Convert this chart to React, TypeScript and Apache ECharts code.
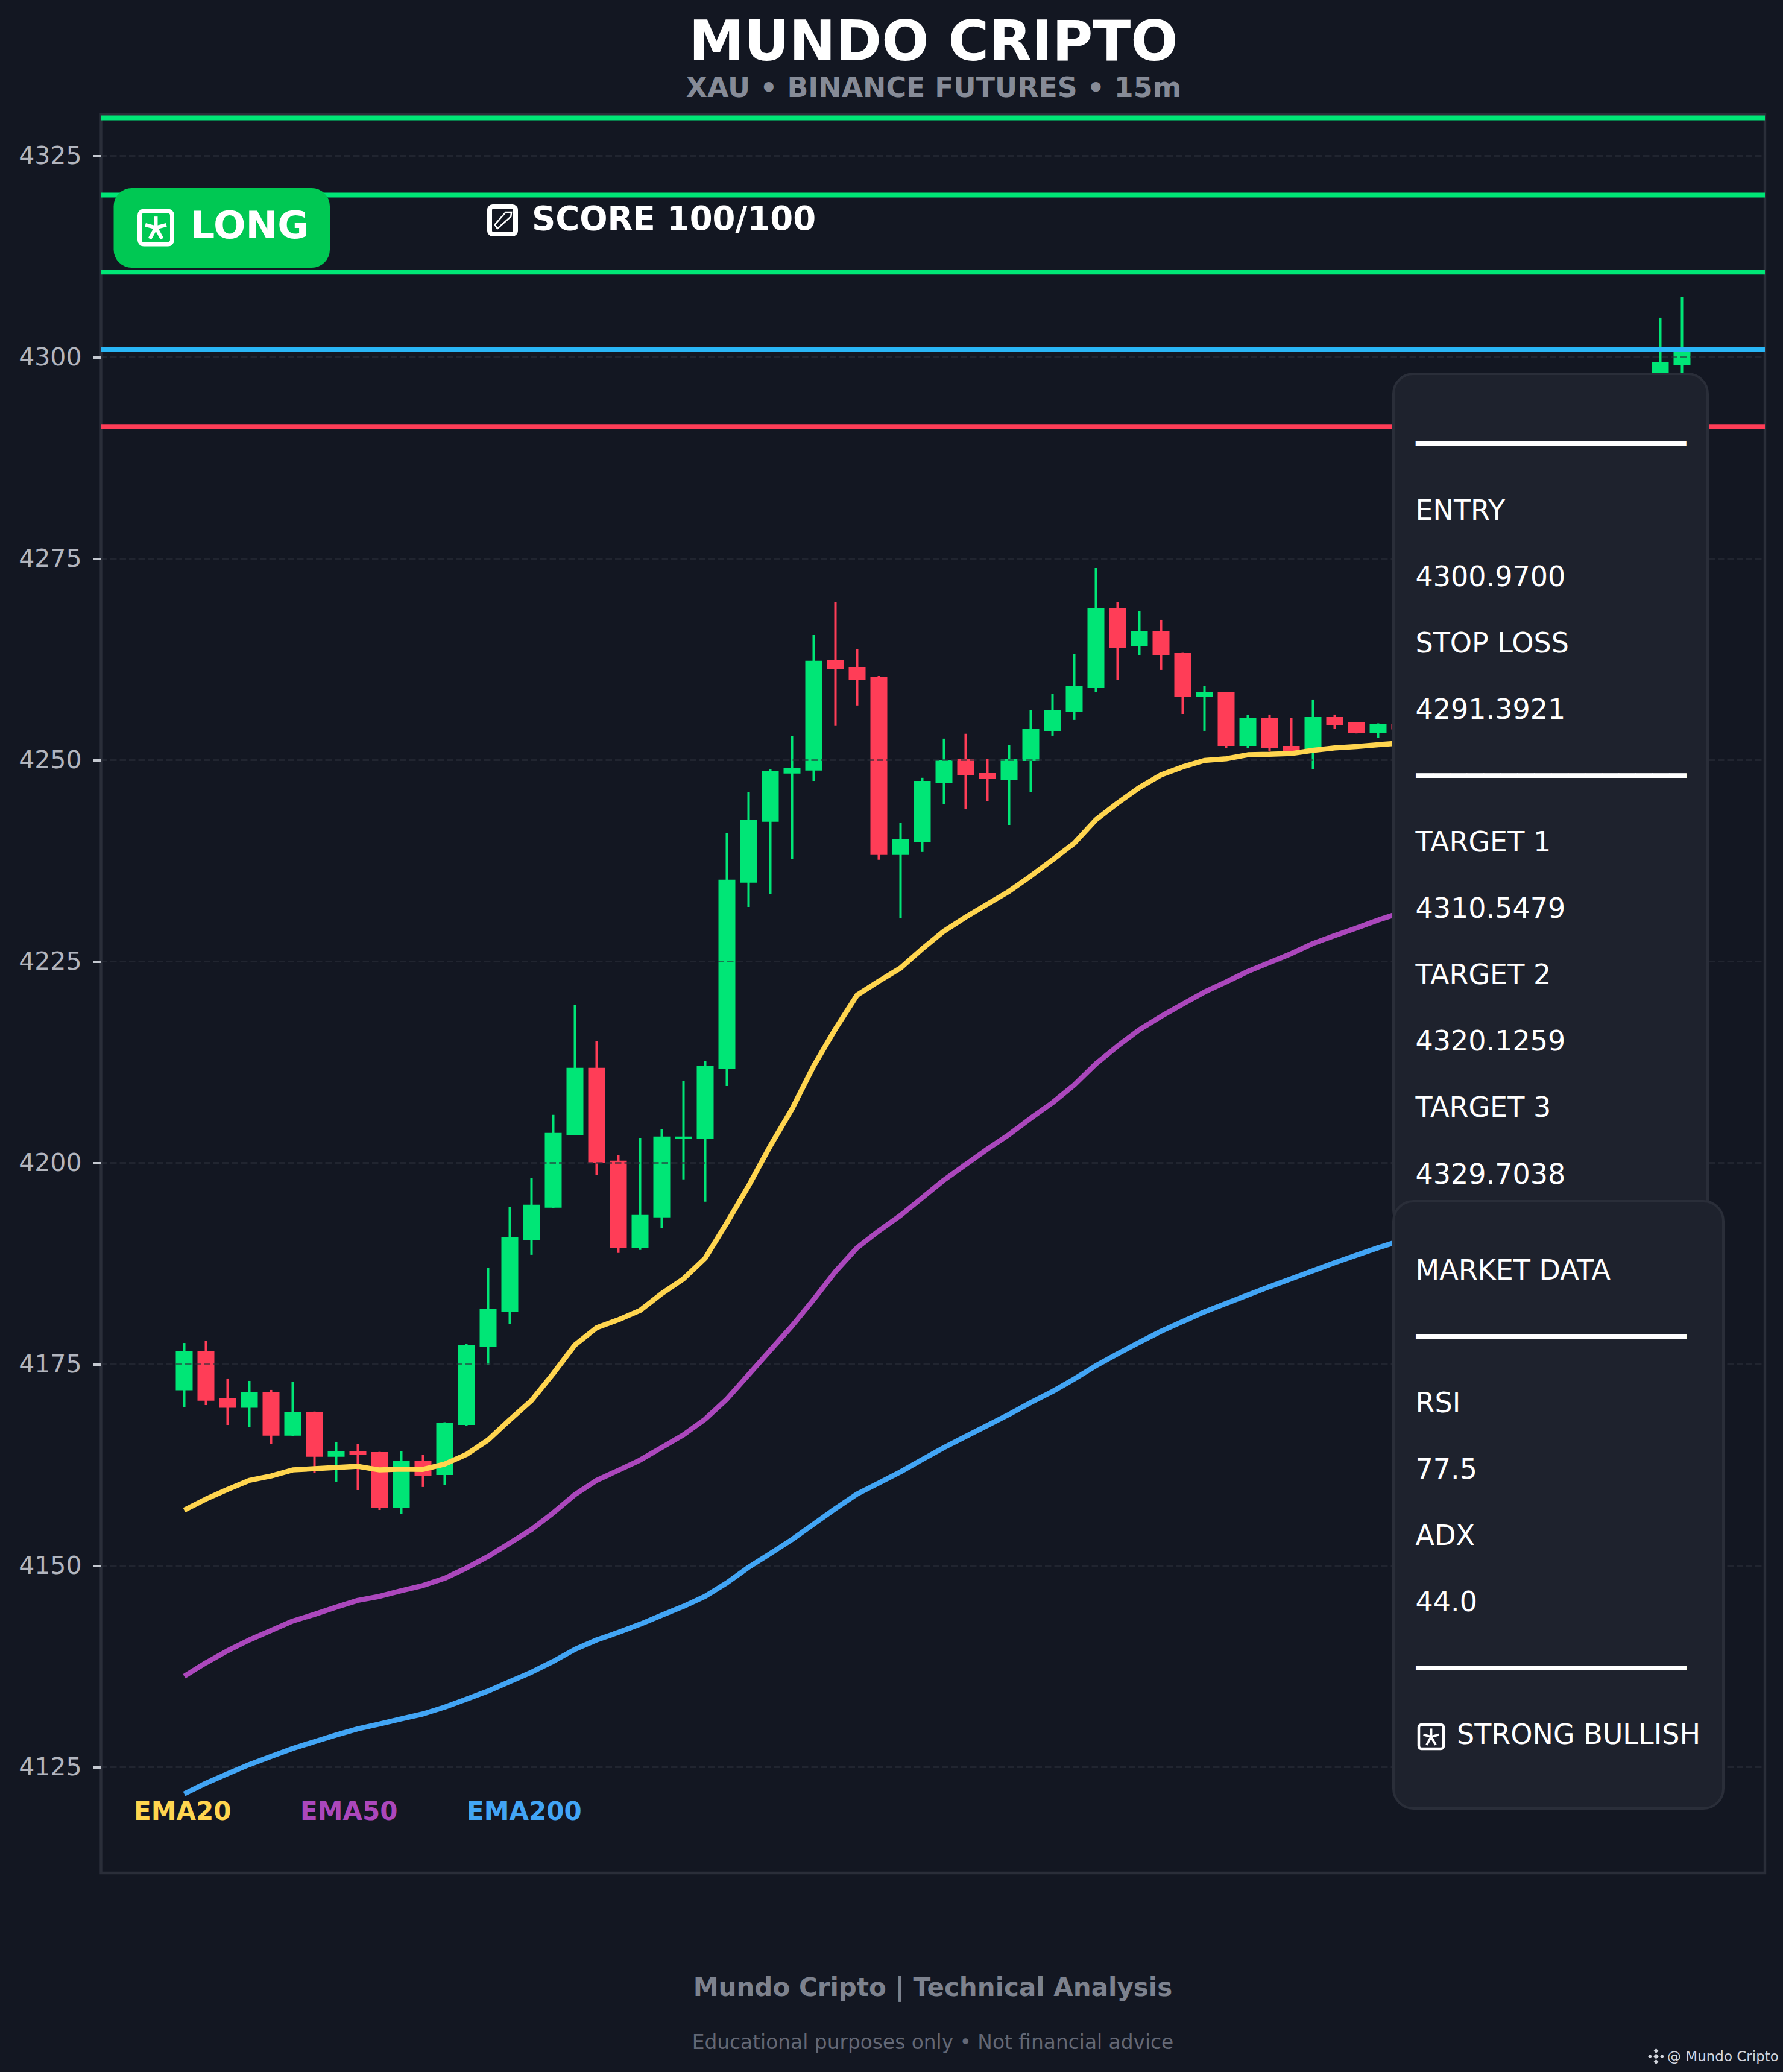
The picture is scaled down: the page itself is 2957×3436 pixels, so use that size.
import React, { useEffect, useRef } from "react";
import * as echarts from "echarts";

const BG = "#131722";
const PANEL = "#1e222d";
const EDGE = "#2a2e39";
const UP = "#00e676";
const DOWN = "#ff3d57";
const FONT = "DejaVu Sans";

const opens = [4171.76,4176.6,4170.76,4169.59,4171.58,4166.14,4169.11,4163.52,4164.17,4164.1,4157.21,4162.97,4161.25,4167.46,4177.12,4181.54,4190.44,4194.43,4203.47,4211.79,4200.26,4189.47,4193.23,4202.97,4202.97,4211.63,4234.77,4242.33,4248.32,4248.69,4262.44,4261.55,4260.29,4238.21,4239.84,4247.11,4250.18,4248.37,4247.48,4249.88,4253.54,4255.94,4258.93,4268.89,4264.1,4266.04,4263.27,4257.81,4258.41,4251.75,4255.26,4251.75,4251.05,4255.34,4254.67,4253.32,4254.5,4253.8,4255.3,4256.9,4256.1,4259.2,4263.4,4266.8,4265.7,4271.5,4277.6,4286.0,4297.2,4299.05];
const closes = [4176.6,4170.48,4169.59,4171.58,4166.14,4169.11,4163.52,4164.17,4163.72,4157.21,4163.05,4161.18,4167.76,4177.42,4181.84,4190.76,4194.8,4203.7,4211.79,4200.0,4189.47,4193.52,4203.26,4203.26,4212.08,4235.14,4242.62,4248.61,4248.98,4262.31,4261.26,4259.98,4238.21,4240.16,4247.4,4250.0,4248.08,4247.64,4250.18,4253.84,4256.24,4259.23,4268.89,4263.95,4266.04,4262.97,4257.81,4258.41,4251.75,4255.26,4251.52,4251.05,4255.34,4254.37,4253.32,4254.52,4253.8,4255.3,4256.9,4256.1,4259.2,4263.4,4266.8,4265.7,4271.5,4277.6,4286.0,4296.4,4299.35,4301.0];
const lows = [4169.66,4169.93,4167.46,4167.17,4165.07,4166.04,4161.55,4160.43,4159.38,4156.91,4156.39,4159.76,4160.05,4167.32,4174.88,4179.97,4188.58,4194.4,4203.4,4198.53,4188.82,4189.18,4191.89,4197.95,4195.17,4209.53,4231.76,4233.33,4237.69,4247.4,4254.23,4256.77,4237.61,4230.33,4238.58,4244.49,4243.88,4244.93,4241.94,4245.98,4253.02,4254.97,4258.41,4259.9,4262.97,4261.18,4255.71,4253.62,4251.45,4251.45,4251.15,4250.9,4248.83,4253.84,4253.3,4252.72,4253.4,4253.1,4254.6,4255.2,4255.7,4258.6,4262.5,4264.3,4265.0,4270.4,4276.5,4285.1,4295.9,4296.8];
const highs = [4177.64,4177.94,4173.23,4172.93,4171.81,4172.78,4169.13,4165.37,4165.14,4164.12,4164.17,4163.72,4167.8,4177.5,4187.0,4194.49,4198.08,4205.96,4219.64,4215.07,4201.0,4203.1,4204.15,4210.21,4212.68,4240.89,4245.98,4248.9,4252.94,4265.52,4269.64,4263.73,4260.42,4242.18,4247.79,4252.65,4253.26,4250.1,4251.84,4256.16,4258.18,4263.12,4273.83,4269.64,4268.44,4267.39,4263.3,4259.23,4258.48,4255.56,4255.64,4255.19,4257.51,4255.64,4254.7,4254.55,4254.8,4256.2,4257.8,4258.1,4260.5,4264.7,4268.2,4268.9,4273.0,4279.1,4287.8,4297.4,4304.89,4307.44];

const ema20 = [4156.89,4158.26,4159.46,4160.58,4161.13,4161.88,4162.03,4162.18,4162.33,4161.88,4161.98,4161.95,4162.6,4163.8,4165.6,4168.1,4170.5,4173.83,4177.39,4179.53,4180.52,4181.67,4183.77,4185.6,4188.16,4192.55,4197.14,4202.1,4206.68,4212.03,4216.62,4220.82,4222.54,4224.18,4226.55,4228.76,4230.5,4232.1,4233.7,4235.6,4237.6,4239.67,4242.59,4244.66,4246.58,4248.15,4249.15,4249.95,4250.15,4250.65,4250.72,4250.8,4251.2,4251.5,4251.67,4251.9,4252.1,4252.6,4253.2,4254.0,4254.9,4255.9,4257.0,4258.2,4259.6,4261.1,4262.7,4264.6,4266.6,4268.7];
const ema50 = [4136.27,4137.94,4139.44,4140.78,4141.95,4143.12,4143.95,4144.85,4145.69,4146.19,4146.89,4147.53,4148.43,4149.7,4151.14,4152.81,4154.48,4156.55,4158.82,4160.59,4161.83,4163.1,4164.67,4166.24,4168.18,4170.68,4173.7,4176.73,4179.75,4183.04,4186.5,4189.46,4191.55,4193.47,4195.66,4197.86,4199.78,4201.7,4203.51,4205.54,4207.46,4209.66,4212.29,4214.49,4216.52,4218.17,4219.7,4221.19,4222.45,4223.76,4224.86,4225.96,4227.22,4228.21,4229.14,4230.13,4231.0,4231.9,4232.8,4233.7,4234.6,4235.5,4236.5,4237.5,4238.6,4239.7,4240.9,4242.2,4243.5,4244.9];
const ema200 = [4121.67,4123.0,4124.17,4125.31,4126.31,4127.31,4128.15,4128.98,4129.75,4130.35,4130.99,4131.59,4132.43,4133.43,4134.43,4135.6,4136.77,4138.11,4139.61,4140.78,4141.71,4142.72,4143.85,4144.95,4146.19,4147.86,4149.8,4151.5,4153.24,4155.16,4157.08,4158.89,4160.26,4161.64,4163.17,4164.65,4166.03,4167.4,4168.77,4170.25,4171.62,4173.16,4174.81,4176.29,4177.72,4179.09,4180.3,4181.5,4182.55,4183.59,4184.63,4185.62,4186.61,4187.6,4188.53,4189.46,4190.3,4191.2,4192.0,4192.8,4193.7,4194.5,4195.3,4196.1,4197.0,4197.9,4198.8,4199.7,4200.7,4201.7];

const yTicks = [4125, 4150, 4175, 4200, 4225, 4250, 4275, 4300, 4325];
const levelNames = ["TARGET 3", "TARGET 2", "TARGET 1", "ENTRY", "STOP LOSS"];
const levelValues = [4329.7038, 4320.1259, 4310.5479, 4300.97, 4291.3921];
const levelColors = [UP, UP, UP, "#29b6f6", DOWN];
const emaNames = ["EMA20", "EMA50", "EMA200"];
const emaColors = ["#ffd54f", "#ab47bc", "#42a5f5"];
const tradeLines = ["ENTRY", "4300.9700", "STOP LOSS", "4291.3921", null, "TARGET 1", "4310.5479", "TARGET 2", "4320.1259", "TARGET 3", "4329.7038"];
const marketLines = ["MARKET DATA", null, "RSI", "77.5", "ADX", "44.0", null];
const RULE = "━━━━━━━━━━━━━━━━";

const X_MIN = -3.833;
const X_MAX = 72.82;
const Y_MIN = 4111.85;
const Y_MAX = 4330.11;

function txt(x: number, y: number, text: string, fontSize: number, fill: string, extra: any = {}) {
  return {
    type: "text", x, y, z: 50, silent: true,
    style: { text, fontSize, fill, fontFamily: FONT, verticalAlign: "middle", align: "left", ...extra },
  };
}

function ruleOrText(x: number, y: number, line: string | null) {
  return line === null ? txt(x + 1, y, RULE, 46.5, "#ffffff") : txt(x, y, line, 46, "#ffffff");
}

function seg(a: number[], b: number[], stroke: string, lineWidth: number, z = 52) {
  return { type: "line", z, silent: true, shape: { x1: a[0], y1: a[1], x2: b[0], y2: b[1] }, style: { stroke, lineWidth } };
}

function starBox(x: number, y: number, w: number, h: number, lw: number) {
  const cx = x + w / 2;
  const cy = y + h / 2;
  const s = Math.min(w, h) * 0.34;
  const arms = [[0, -1], [0.95, -0.25], [0.55, 1], [-0.55, 1], [-0.95, -0.25]];
  return [
    { type: "rect", z: 51, silent: true, shape: { x, y, width: w, height: h, r: lw }, style: { fill: "transparent", stroke: "#ffffff", lineWidth: lw } },
    ...arms.map((a) => seg([cx, cy], [cx + a[0] * s, cy + a[1] * s], "#ffffff", lw * 0.85)),
  ];
}

function arrowBox(x: number, y: number, w: number, h: number) {
  return [
    { type: "rect", z: 51, silent: true, shape: { x, y, width: w, height: h, r: 5 }, style: { fill: "transparent", stroke: "#ffffff", lineWidth: 8 } },
    { type: "polygon", z: 52, silent: true, shape: { points: [[x + w * 0.62, y + h * 0.2], [x + w * 0.84, y + h * 0.2], [x + w * 0.82, y + h * 0.36], [x + w * 0.3, y + h * 0.8], [x + w * 0.2, y + h * 0.66]] }, style: { fill: "transparent", stroke: "#ffffff", lineWidth: 2.5 } },
  ];
}

function diamond(cx: number, cy: number, r: number, fill: string) {
  return { type: "polygon", z: 52, silent: true, shape: { points: [[cx, cy - r], [cx + r, cy], [cx, cy + r], [cx - r, cy]] }, style: { fill } };
}

export default function App() {
  const ref = useRef<HTMLDivElement | null>(null);

  useEffect(() => {
    document.body.style.margin = "0";
    document.body.style.background = BG;
    const chart = echarts.init(ref.current as HTMLDivElement, undefined, { renderer: "svg" });
    const rows = opens.map((o, i) => [i, o, closes[i], lows[i], highs[i]]);
    const candleColors = { color: UP, color0: DOWN, borderColor: UP, borderColor0: DOWN, borderColorDoji: UP };

    const graphic: any[] = [
      // Signal badge
      { type: "rect", z: 50, silent: true, shape: { x: 188.5, y: 312, width: 358.5, height: 132, r: 30 }, style: { fill: "#00c853" } },
      ...starBox(231.5, 350, 54, 55, 7),
      txt(316, 373, "LONG", 63, "#ffffff", { fontWeight: "bold" }),
      ...arrowBox(812, 343, 43, 45),
      txt(882, 362, "SCORE 100/100", 54.5, "#ffffff", { fontWeight: "bold" }),
      // Panels
      { type: "rect", z: 40, silent: true, shape: { x: 2311, y: 620, width: 521, height: 1420, r: 33 }, style: { fill: PANEL, stroke: EDGE, lineWidth: 4 } },
      ruleOrText(2347, 735, null),
      ...tradeLines.map((line, i) => ruleOrText(2347.5, 845.5 + i * 110.1, line)),
      { type: "rect", z: 45, silent: true, shape: { x: 2311, y: 1992, width: 547, height: 1007, r: 33 }, style: { fill: PANEL, stroke: EDGE, lineWidth: 4 } },
      ...marketLines.map((line, i) => ruleOrText(2347.5, 2105.5 + i * 110.15, line)),
      ...starBox(2353, 2860, 41, 40, 4.5),
      txt(2416, 2876, "STRONG BULLISH", 46, "#ffffff"),
      // EMA legend
      txt(222, 3003, emaNames[0], 42, emaColors[0], { fontWeight: "bold" }),
      txt(498, 3003, emaNames[1], 42, emaColors[1], { fontWeight: "bold" }),
      txt(774, 3003, emaNames[2], 42, emaColors[2], { fontWeight: "bold" }),
      // Footer
      txt(1547, 3295.5, "Mundo Cripto | Technical Analysis", 42, "#7d828e", { fontWeight: "bold", align: "center" }),
      txt(1547, 3387, "Educational purposes only • Not financial advice", 32.85, "#646875", { align: "center" }),
      // Watermark
      diamond(2746.5, 3410, 4.5, "#d1d4dc"),
      diamond(2736.5, 3410, 3.5, "#d1d4dc"),
      diamond(2756.5, 3410, 3.5, "#d1d4dc"),
      diamond(2746.5, 3401, 4, "#d1d4dc"),
      diamond(2746.5, 3419, 4, "#d1d4dc"),
      txt(2765, 3410, "@ Mundo Cripto", 23, "#d1d4dc"),
    ];

    chart.setOption({
      animation: false,
      backgroundColor: BG,
      textStyle: { fontFamily: FONT },
      title: [
        { text: "MUNDO CRIPTO", left: 1543, top: 17, textAlign: "center", textStyle: { fontSize: 92, fontWeight: "bold", color: "#ffffff", fontFamily: FONT } },
        { text: "XAU • BINANCE FUTURES • 15m", left: 1543.5, top: 117, textAlign: "center", textStyle: { fontSize: 45.8, fontWeight: "bold", color: "#868b97", fontFamily: FONT } },
      ],
      grid: { left: 167.5, top: 190, width: 2759.5, height: 2916, show: true, borderColor: EDGE, borderWidth: 4.4, backgroundColor: BG, containLabel: false },
      xAxis: { type: "value", min: X_MIN, max: X_MAX, show: false, splitLine: { show: false } },
      yAxis: {
        type: "value", position: "left", min: Y_MIN, max: Y_MAX, z: 3,
        axisLine: { show: false, onZero: false },
        axisTick: { show: true, length: 13, lineStyle: { color: "#c4c8d0", width: 4 }, customValues: yTicks },
        axisLabel: { show: true, customValues: yTicks, fontSize: 41, margin: 32, color: "#b2b5be", fontFamily: FONT, formatter: (v: number) => String(v) },
        splitLine: { show: true, lineStyle: { color: "rgba(42,46,57,0.62)", width: 3, type: [10.5, 5] } },
      },
      series: [
        { type: "candlestick", name: "Wicks", z: 2, barWidth: 0.01, data: rows, itemStyle: { ...candleColors, borderWidth: 4 } },
        { type: "candlestick", name: "XAU", z: 2, barWidth: 29, data: rows, itemStyle: { ...candleColors, borderWidth: 0 } },
        ...[ema20, ema50, ema200].map((values, s) => ({
          type: "line", name: emaNames[s], z: 4, showSymbol: false, symbol: "none",
          data: values.map((v, i) => [i, v]),
          lineStyle: { color: emaColors[s], width: 8.5, cap: "butt" },
        })),
        ...levelValues.map((v, s) => ({
          type: "line", name: levelNames[s], z: 5, showSymbol: false, symbol: "none",
          data: [[X_MIN, v], [X_MAX, v]],
          lineStyle: { color: levelColors[s], width: 8 },
        })),
      ],
      graphic: { elements: graphic },
    } as any);

    return () => chart.dispose();
  }, []);

  return <div ref={ref} style={{ position: "absolute", left: 0, top: 0, width: 2957, height: 3436 }} />;
}
